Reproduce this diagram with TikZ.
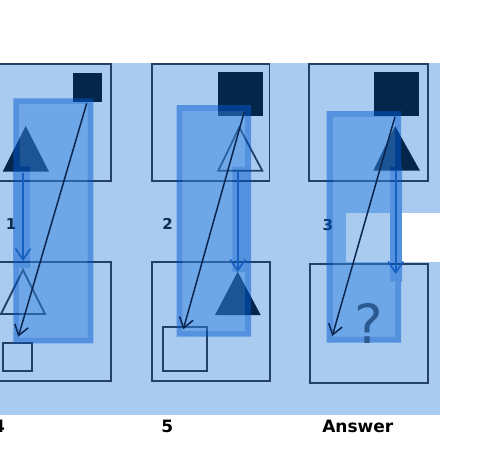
\documentclass[tikz,border=0pt]{standalone}
\usepackage{fontspec}
\setmainfont{DejaVu Sans}
\usetikzlibrary{arrows.meta}
\definecolor{bgblue}{RGB}{169,203,239}
\definecolor{panelline}{RGB}{36,64,98}
\definecolor{darkfill}{RGB}{5,37,75}
\definecolor{bandc}{RGB}{0,89,209}
\definecolor{innerc}{RGB}{51,133,225}
\definecolor{arrowdark}{RGB}{10,38,80}
\definecolor{arrowblue}{RGB}{21,96,192}
\definecolor{qmark}{RGB}{43,90,144}
\definecolor{labnavy}{RGB}{14,43,80}
\tikzset{
  panel/.style={draw=panelline, line width=1.8pt},
  solidshape/.style={fill=darkfill},
  openshape/.style={draw=panelline, line width=1.8pt, line join=miter},
  diag/.style={draw=arrowdark, line width=1.5pt, -{Straight Barb[length=10pt,width=14pt,line width=1.5pt]}},
  bararrow/.style={draw=arrowblue, line width=2pt, -{Straight Barb[length=11pt,width=15pt,line width=1.6pt]}},
  numlab/.style={inner sep=0pt, text=labnavy, font=\fontsize{15}{18}\selectfont\bfseries},
  botlab/.style={inner sep=0pt, text=black, font=\fontsize{17}{20}\selectfont\bfseries},
  hlgroup/.style={transparency group, opacity=0.5},
}
\begin{document}
\begin{tikzpicture}[x=1pt,y=-1pt]
\useasboundingbox (0,0) rectangle (478,466);
% background
\fill[bgblue] (0,63) rectangle (440,415);
% panels
\draw[panel] (-7,63.8) rectangle (111,180.7);
\draw[panel] (151.7,63.8) rectangle (269.5,180.7);
\draw[panel] (309.3,63.8) rectangle (427.7,180.7);
\draw[panel] (-7,262.3) rectangle (111,380.7);
\draw[panel] (151.7,262.3) rectangle (269.7,380.7);
\draw[panel] (310,264) rectangle (428.3,382.7);
% shapes panel 1
\fill[solidshape] (72.7,72.7) rectangle (102.3,102.3);
\fill[solidshape] (25.7,126) -- (49,171.7) -- (2.7,171.7) -- cycle;
% panel 4
\draw[openshape] (23,270) -- (45,314) -- (1,314) -- cycle;
\draw[openshape] (3.3,343.3) rectangle (32,371);
% panel 2
\fill[solidshape] (218.3,71.7) rectangle (262.7,115.7);
\draw[openshape] (239.3,127.3) -- (262.3,170.7) -- (218.3,170.7) -- cycle;
% panel 5
\fill[solidshape] (237.7,271.7) -- (260.7,315) -- (215,315) -- cycle;
\draw[openshape] (162.7,327.3) rectangle (206.7,370.7);
% panel 3
\fill[solidshape] (374.3,71.7) rectangle (419,115.7);
\fill[solidshape] (395,126) -- (420,170.7) -- (373.3,170.7) -- cycle;
% labels
\node[numlab] (l1) at (11,224.5) {1};
\node[numlab] (l2) at (167.5,224.2) {2};
\node[numlab] (l3) at (327.8,225) {3};
% highlight groups
\begin{scope}[hlgroup]
  \fill[innerc] (19.3,104.3) rectangle (87.3,337.3);
  \fill[bandc, even odd rule] (13.3,98.3) rectangle (93.3,343.3) (19.3,104.3) rectangle (87.3,337.3);
  \fill[bandc] (13.3,166.7) rectangle (30,268);
\end{scope}
\begin{scope}[hlgroup]
  \fill[innerc] (182.7,111) rectangle (245,330.7);
  \fill[bandc, even odd rule] (176.7,105) rectangle (251,336.7) (182.7,111) rectangle (245,330.7);
  \fill[bandc] (232.3,166.7) rectangle (245,272);
\end{scope}
\begin{scope}[hlgroup]
  \fill[innerc] (333.3,117.3) rectangle (395,336.3);
  \fill[bandc, even odd rule] (326.7,111) rectangle (401,342.7) (333.3,117.3) rectangle (395,336.3);
  \fill[bandc] (390,166.7) rectangle (402,281.7);
\end{scope}
% patches
\fill[bgblue] (346,213) rectangle (390,262);
\fill[white] (402,213) rectangle (440,262);
% question mark
\node[inner sep=0pt, text=qmark, font=\fontsize{54}{60}\selectfont] (q) at (369,323) {?};
% arrow coordinates
\coordinate (d1s) at (86.7,103.3); \coordinate (d1e) at (18.3,336.7);
\coordinate (d2s) at (244.3,111.7); \coordinate (d2e) at (183.3,329.3);
\coordinate (d3s) at (395,116.7); \coordinate (d3e) at (332.3,336);
\coordinate (b1s) at (23,173); \coordinate (b1e) at (23,261);
\coordinate (b2s) at (237.7,171.7); \coordinate (b2e) at (237.7,272);
\coordinate (b3s) at (395.7,171); \coordinate (b3e) at (395.7,274);
\draw[bararrow] (b1s) -- (b1e);
\draw[bararrow] (b2s) -- (b2e);
\draw[bararrow] (b3s) -- (b3e);
\draw[diag] (d1s) -- (d1e);
\draw[diag] (d2s) -- (d2e);
\draw[diag] (d3s) -- (d3e);
% bottom labels
\node[botlab] (l4) at (-1,426.3) {4};
\node[botlab] (l5) at (167.2,426.3) {5};
\node[botlab] (la) at (357.8,426.3) {Answer};
\end{tikzpicture}
\end{document}
